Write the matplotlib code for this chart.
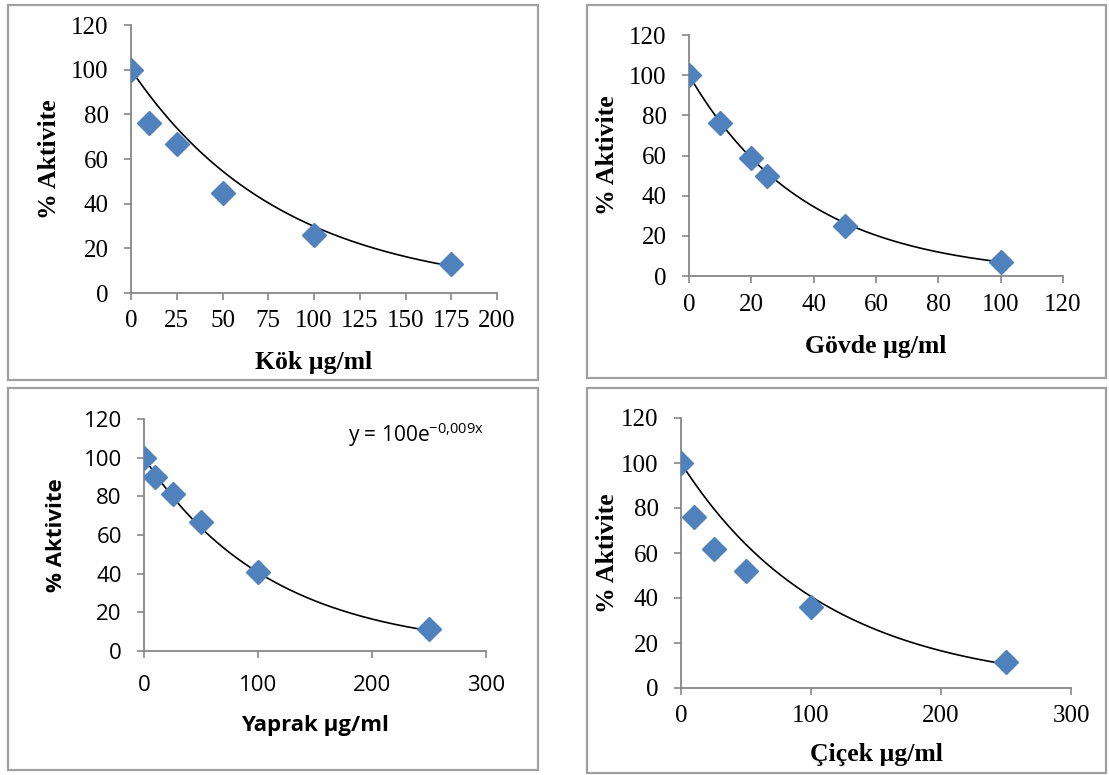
import matplotlib.pyplot as plt
import matplotlib.patches as mpatches
import numpy as np

# veriler
kok_x = [0, 10, 25, 50, 100, 175]
kok_y = [100, 76, 66.5, 45, 26, 13]
kok_k = 0.0121

govde_x = [0, 10, 20, 25, 50, 100]
govde_y = [100, 76, 59, 50, 25, 7]
govde_k = 0.0266

yaprak_x = [0, 10, 25, 50, 100, 250]
yaprak_y = [100, 90, 81, 66.5, 41, 11.5]
yaprak_k = 0.009

cicek_x = [0, 10, 25, 50, 100, 250]
cicek_y = [100, 76, 62, 52, 36, 11.5]
cicek_k = 0.009

y_ticks = [0, 20, 40, 60, 80, 100, 120]

MARKER = '#4F81BD'
AXCOL = '#878787'
W, H = 1109, 775

fig = plt.figure(figsize=(W / 100, H / 100), dpi=100)

# panel cerceveleri (piksel: sol, ust, sag, alt)
frames = [(8, 5, 538, 380), (587, 5, 1106, 378), (8, 388, 538, 770), (587, 388, 1106, 773)]
for l, t, r, b in frames:
    fig.add_artist(mpatches.Rectangle((l / W, 1 - b / H), (r - l) / W, (b - t) / H,
                                      transform=fig.transFigure, fill=False,
                                      edgecolor='#a0a0a0', lw=1.6))


def panel(box, x, y, k, xmax, xticks, xlabel, font, tick_fs, lab_fs, xpad, xlab_off, ylab_off):
    l, t, r, b = box
    ax = fig.add_axes([l / W, 1 - b / H, (r - l) / W, (b - t) / H])
    xx = np.linspace(0, max(x), 300)
    ax.plot(xx, 100 * np.exp(-k * xx), color='black', lw=1.2, zorder=2)
    ax.plot(x, y, 'D', color=MARKER, ms=12, mec=MARKER, zorder=3)
    ax.set_xlim(0, xmax)
    ax.set_ylim(0, 120)
    ax.set_xticks(xticks)
    ax.set_yticks(y_ticks)
    for s in ['top', 'right']:
        ax.spines[s].set_visible(False)
    for s in ['left', 'bottom']:
        ax.spines[s].set_color(AXCOL)
        ax.spines[s].set_linewidth(1.3)
    ax.tick_params(direction='out', length=5, width=1.2, color=AXCOL, labelsize=tick_fs)
    ax.tick_params(axis='x', pad=xpad)
    ax.tick_params(axis='y', pad=11)
    for lab in ax.get_xticklabels() + ax.get_yticklabels():
        lab.set_fontfamily(font)
    ax.set_xlabel(xlabel, fontfamily=font, fontsize=lab_fs, fontweight='bold', va='center')
    ax.set_ylabel('% Aktivite', fontfamily=font, fontsize=lab_fs, fontweight='bold',
                  va='center', ha='center')
    ax.xaxis.set_label_coords(0.5, -xlab_off / (b - t))
    ax.yaxis.set_label_coords(-ylab_off / (r - l), 0.5)
    ax.patch.set_alpha(0)
    return ax


serif = 'Liberation Serif'
sans = 'Open Sans'

panel((131, 25, 497, 293), kok_x, kok_y, kok_k, 200,
      [0, 25, 50, 75, 100, 125, 150, 175, 200], 'Kök µg/ml', serif, 18, 18.5, 7, 69, 81)
panel((689, 35, 1063, 276), govde_x, govde_y, govde_k, 120,
      [0, 20, 40, 60, 80, 100, 120], 'Gövde µg/ml', serif, 18, 18.5, 8, 70, 81)
ax3 = panel((144, 419, 486, 651), yaprak_x, yaprak_y, yaprak_k, 300,
            [0, 100, 200, 300], 'Yaprak µg/ml', sans, 16, 16, 12, 75, 87)
ax3.text((348 - 144) / 342, (651 - 435) / 232, r'y = 100e$^{\mathregular{-0{,}009x}}$',
         transform=ax3.transAxes, fontfamily=sans, fontsize=15, ha='left', va='center')
panel((681, 418, 1071, 688), cicek_x, cicek_y, cicek_k, 300,
      [0, 100, 200, 300], 'Çiçek µg/ml', serif, 18, 18.5, 7, 67, 73)

fig.savefig('out.png', dpi=100)
